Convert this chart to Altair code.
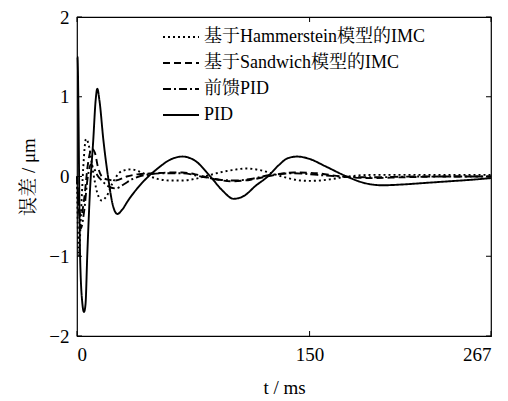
import altair as alt
import pandas as pd

series_names = ["基于Hammerstein模型的IMC", "基于Sandwich模型的IMC", "前馈PID", "PID"]

ham_t = [0, 0.5, 1.2, 2.5, 4, 5.8, 7.5, 10, 13, 16, 19, 23, 27, 31, 35, 39, 45, 52, 60, 68, 76, 84, 92, 100, 109, 118, 127, 136, 144, 150, 157, 165, 175, 190, 210, 230, 250, 267]
ham_v = [0, -0.6, -1.0, -0.5, 0.1, 0.47, 0.4, 0.1, -0.2, -0.3, -0.25, -0.08, 0.04, 0.08, 0.09, 0.07, 0.02, -0.03, -0.05, -0.05, -0.03, 0.01, 0.05, 0.08, 0.1, 0.08, 0.03, -0.02, -0.05, -0.055, -0.05, -0.03, 0.0, 0.02, 0.02, 0.02, 0.02, 0.02]

sand_t = [0, 1, 2.5, 4.5, 7, 9.5, 11.5, 13.5, 16, 20, 25, 32, 40, 50, 60, 68, 78, 88, 100, 112, 125, 140, 155, 170, 190, 210, 240, 267]
sand_v = [0, -0.3, -0.5, -0.3, 0.15, 0.35, 0.3, 0.12, 0.0, -0.04, -0.05, 0.0, 0.03, 0.04, 0.05, 0.05, 0.02, -0.03, -0.06, -0.04, 0.01, 0.05, 0.04, 0.0, -0.02, -0.01, 0.0, 0.0]

ff_t = [0, 1, 2.5, 4.5, 7, 9, 11, 13, 16, 20, 25, 30, 36, 44, 55, 68, 80, 92, 102, 112, 125, 140, 155, 170, 190, 220, 267]
ff_v = [0, -0.35, -0.65, -0.45, 0.0, 0.15, 0.1, 0.02, -0.05, -0.12, -0.15, -0.1, -0.03, 0.02, 0.04, 0.04, 0.0, -0.04, -0.05, -0.03, 0.02, 0.04, 0.02, 0.0, -0.01, 0.0, 0.0]

pid_t = [0, 0.3, 2, 3.5, 4.5, 5.5, 6.6, 8.4, 10.5, 12, 13.1, 14.5, 17, 20, 23, 26, 29, 33, 38, 46, 52, 60, 68, 76, 86, 94, 101, 108, 115, 123, 130, 136, 142, 150, 160, 174, 185, 197, 210, 225, 240, 255, 267]
pid_v = [1.5, 1.5, -1.0, -1.6, -1.7, -1.6, -1.0, -0.17, 0.46, 0.95, 1.1, 0.95, 0.46, 0.0, -0.35, -0.47, -0.42, -0.3, -0.17, 0.0, 0.1, 0.21, 0.25, 0.2, 0.0, -0.18, -0.28, -0.24, -0.12, 0.0, 0.14, 0.23, 0.25, 0.22, 0.13, 0.0, -0.08, -0.11, -0.1, -0.08, -0.06, -0.04, -0.02]

x_ticks = [0, 150, 267]
y_ticks = [-2, -1, 0, 1, 2]

W, H = 414, 319
FONT = "'Liberation Serif', 'Noto Serif CJK SC', 'Noto Sans CJK SC', serif"

rows = []
for name, ts, vs in zip(series_names, [ham_t, sand_t, ff_t, pid_t], [ham_v, sand_v, ff_v, pid_v]):
    for i, (t, v) in enumerate(zip(ts, vs)):
        rows.append({"series": name, "t": t, "v": v, "i": i})
df = pd.DataFrame(rows)

xdf = pd.DataFrame({"t": x_ticks})
ydf = pd.DataFrame({"v": y_ticks})

xs = alt.Scale(domain=[0, 267], nice=False, zero=False)
ys = alt.Scale(domain=[-2, 2], nice=False)

lines = alt.Chart(df).mark_line(color="black", strokeWidth=1.9, interpolate="monotone").encode(
    x=alt.X("t:Q", scale=xs, axis=alt.Axis(values=x_ticks, format="d", title="t / ms", domain=False, ticks=False,
                                            labelPadding=9, titlePadding=14, grid=False)),
    y=alt.Y("v:Q", scale=ys, axis=alt.Axis(values=y_ticks, format="d", title="误差 / μm", domain=False, ticks=False,
                                            labelPadding=8, titlePadding=10, grid=False)),
    strokeDash=alt.StrokeDash("series:N", sort=series_names,
                              scale=alt.Scale(domain=series_names, range=[[2, 3], [7, 4], [8, 3, 2, 3], [1, 0]]),
                              legend=alt.Legend(title=None, orient="none", legendX=85, legendY=7,
                                                symbolType="stroke", symbolSize=1296, symbolStrokeWidth=1.9,
                                                symbolStrokeColor="black", labelFontSize=18, labelFont=FONT,
                                                labelColor="black", clipHeight=26, rowPadding=0, labelOffset=4,
                                                padding=0, labelLimit=400)),
    order="i:Q",
)

xt_bot = alt.Chart(xdf).mark_rule(color="black", strokeWidth=1).encode(x=alt.X("t:Q", scale=xs), y=alt.value(H), y2=alt.value(H - 5))
xt_top = alt.Chart(xdf).mark_rule(color="black", strokeWidth=1).encode(x=alt.X("t:Q", scale=xs), y=alt.value(0), y2=alt.value(5))
yt_left = alt.Chart(ydf).mark_rule(color="black", strokeWidth=1).encode(y=alt.Y("v:Q", scale=ys), x=alt.value(0), x2=alt.value(5))
yt_right = alt.Chart(ydf).mark_rule(color="black", strokeWidth=1).encode(y=alt.Y("v:Q", scale=ys), x=alt.value(W - 5), x2=alt.value(W))

chart = alt.layer(lines, xt_bot, xt_top, yt_left, yt_right).properties(
    width=W, height=H,
    autosize=alt.AutoSizeParams(type="none"),
    padding={"left": 69, "top": 9, "right": 8, "bottom": 64},
).configure_view(stroke="black", strokeWidth=1.2).configure_axis(
    labelFont=FONT, labelFontSize=19, labelColor="black", titleFont=FONT, titleFontSize=19,
    titleColor="black", titleFontWeight="normal"
).configure_legend(
    labelFont=FONT, labelFontSize=18, labelColor="black"
)

chart.save("out.html", embed_options={"renderer": "svg", "actions": False})
